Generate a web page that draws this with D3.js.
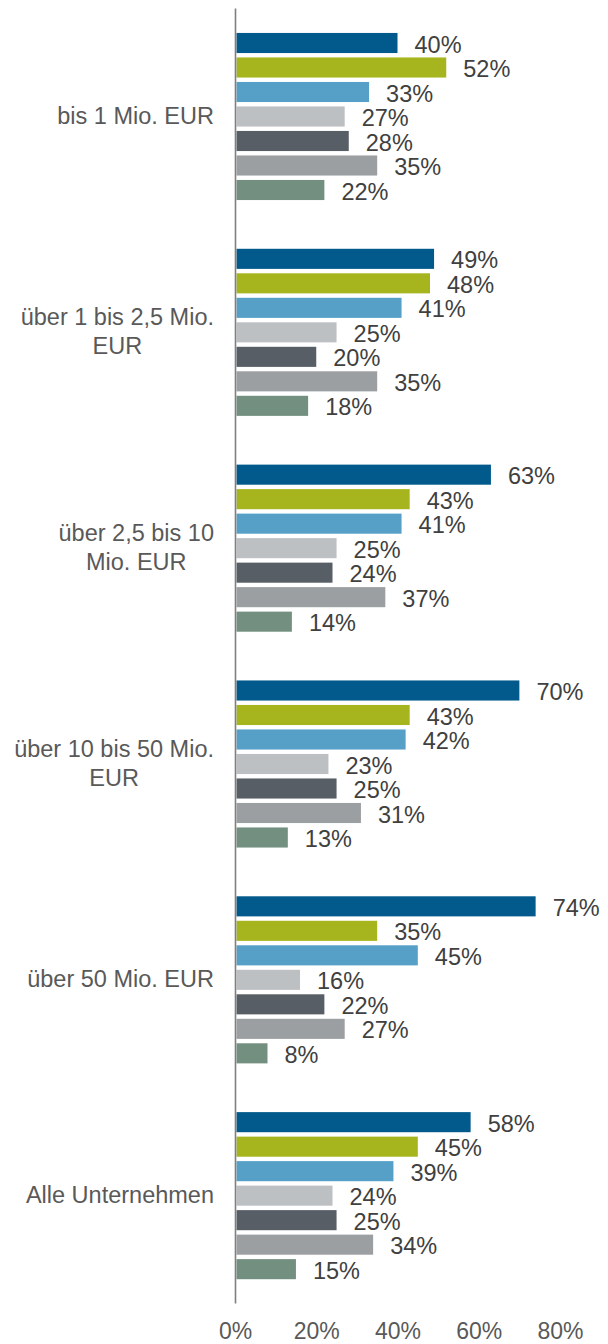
<!DOCTYPE html>
<html>
<head>
<meta charset="utf-8">
<script src="https://cdn.jsdelivr.net/npm/d3@7"></script>
<style>
  body { margin: 0; background: #fff; }
  text { font-family: "Liberation Sans", Arial, sans-serif; }
</style>
</head>
<body>
<div id="plot"></div>
<script>
// categories (wrapped label lines) and series values, in percent
var categories = ["bis 1 Mio. EUR", "über 1 bis 2,5 Mio. EUR", "über 2,5 bis 10 Mio. EUR",
                  "über 10 bis 50 Mio. EUR", "über 50 Mio. EUR", "Alle Unternehmen"];
var categoryLines = [
  ["bis 1 Mio. EUR"],
  ["über 1 bis 2,5 Mio.", "EUR"],
  ["über 2,5 bis 10", "Mio. EUR"],
  ["über 10 bis 50 Mio.", "EUR"],
  ["über 50 Mio. EUR"],
  ["Alle Unternehmen"]
];
var seriesNames = ["s1", "s2", "s3", "s4", "s5", "s6", "s7"];
var s1 = [40, 49, 63, 70, 74, 58];
var s2 = [52, 48, 43, 43, 35, 45];
var s3 = [33, 41, 41, 42, 45, 39];
var s4 = [27, 25, 25, 23, 16, 24];
var s5 = [28, 20, 24, 25, 22, 25];
var s6 = [35, 35, 37, 31, 27, 34];
var s7 = [22, 18, 14, 13, 8, 15];
var tickValues = [0, 20, 40, 60, 80];

var seriesValues = [s1, s2, s3, s4, s5, s6, s7];
var colors = ["#015a8b", "#a6b51d", "#56a0c8", "#bdc0c3", "#575e66", "#9c9fa2", "#738f80"];

var width = 608, height = 1344;

var svg = d3.select("div#plot")
  .append("svg")
    .attr("width", width)
    .attr("height", height);

var xScale = d3.scaleLinear().domain([0, 80]).range([235, 560]);
var yScale = d3.scaleBand().domain(categories).range([8, 1303]).padding(0);
var yInner = d3.scaleBand().domain(seriesNames).range([22.75, 194.25])
  .paddingInner(0.18).paddingOuter(0.09);

// bars
var groups = svg.append("g")
  .selectAll("g")
  .data(categories)
  .enter()
  .append("g")
    .attr("transform", function (d) { return "translate(0," + yScale(d) + ")"; });

groups.each(function (cat, ci) {
  var g = d3.select(this);
  var rows = seriesNames.map(function (s, si) { return {s: s, v: seriesValues[si][ci], c: colors[si]}; });
  g.selectAll("rect")
    .data(rows)
    .enter()
    .append("rect")
      .attr("x", xScale(0) + 1.5)
      .attr("y", function (d) { return yInner(d.s); })
      .attr("width", function (d) { return xScale(d.v) - xScale(0) - 1.5; })
      .attr("height", yInner.bandwidth())
      .attr("fill", function (d) { return d.c; });
  g.selectAll("text.val")
    .data(rows)
    .enter()
    .append("text")
      .attr("class", "val")
      .attr("x", function (d) { return xScale(d.v) + 17; })
      .attr("y", function (d) { return yInner(d.s) + yInner.bandwidth() / 2 + 9.5; })
      .attr("font-size", 23.5)
      .attr("fill", "#404040")
      .text(function (d) { return d.v + "%"; });
});

// vertical axis line
svg.append("g")
  .attr("transform", "translate(" + xScale(0) + ",0)")
  .call(d3.axisLeft(yScale).tickSize(0).tickFormat(""))
  .call(function (g) { g.select(".domain").attr("stroke", "#7f7f7f").attr("stroke-width", 1.6); });

// category labels: wrapped block right-aligned, lines centered within the block
var labelRight = 214, lineH = 29;
categories.forEach(function (cat, ci) {
  var lines = categoryLines[ci];
  var t = svg.append("text")
    .attr("font-size", 23.5)
    .attr("fill", "#595959")
    .attr("text-anchor", "middle");
  var spans = lines.map(function (l) {
    return t.append("tspan").text(l);
  });
  var maxW = d3.max(spans, function (s) { return s.node().getComputedTextLength(); });
  var cx = labelRight - maxW / 2;
  var cy = yScale(cat) + yScale.bandwidth() / 2;
  var first = cy + 8 - (lines.length - 1) * lineH / 2;
  spans.forEach(function (s, li) {
    s.attr("x", cx).attr("y", first + li * lineH);
  });
});

// x axis tick labels
svg.append("g")
  .attr("transform", "translate(0,1303)")
  .call(d3.axisBottom(xScale).tickValues(tickValues).tickSize(0).tickPadding(20)
    .tickFormat(function (d) { return d + "%"; }))
  .call(function (g) { g.select(".domain").remove(); })
  .call(function (g) {
    g.selectAll("text")
      .attr("font-size", 23)
      .attr("font-family", "Liberation Sans, Arial, sans-serif")
      .attr("fill", "#595959");
  });
</script>
</body>
</html>
